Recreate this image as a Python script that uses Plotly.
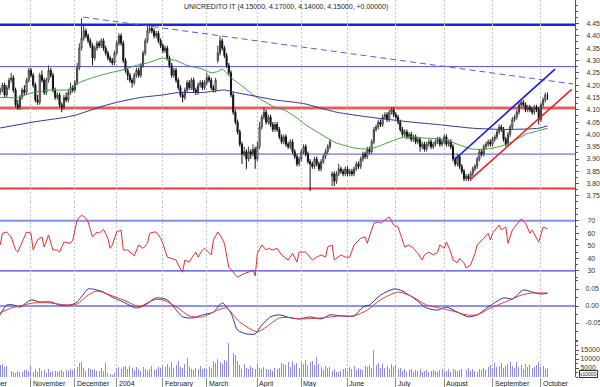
import pandas as pd
import plotly.graph_objects as go
from plotly.subplots import make_subplots

# ------------------------------------------------------------------ data
title_text = "UNICREDITO IT (4.15000, 4.17000, 4.14000, 4.15000, +0.00000)"
first_day = "2003-10-14"
holidays = ["2003-12-24", "2003-12-25", "2003-12-26", "2003-12-31",
            "2004-01-01", "2004-04-09", "2004-04-12"]
month_names = ["October", "November", "December", "2004", "February", "March",
               "April", "May", "June", "July", "August", "September", "October"]

open_ = [
    4.17, 4.18, 4.20, 4.16, 4.19, 4.22, 4.23, 4.18, 4.12, 4.11,
    4.15, 4.18, 4.17, 4.22, 4.26, 4.24, 4.20, 4.14, 4.13, 4.24,
    4.22, 4.17, 4.22, 4.26, 4.24, 4.18, 4.15, 4.16, 4.12, 4.11,
    4.15, 4.14, 4.17, 4.19, 4.18, 4.21, 4.27, 4.35, 4.39, 4.42,
    4.40, 4.38, 4.36, 4.31, 4.35, 4.37, 4.36, 4.38, 4.35, 4.33,
    4.31, 4.30, 4.29, 4.33, 4.37, 4.40, 4.37, 4.30, 4.26, 4.24,
    4.22, 4.21, 4.24, 4.26, 4.24, 4.28, 4.33, 4.38, 4.42, 4.43,
    4.42, 4.40, 4.41, 4.38, 4.36, 4.34, 4.35, 4.31, 4.28, 4.24,
    4.26, 4.22, 4.19, 4.16, 4.15, 4.18, 4.21, 4.19, 4.22, 4.18,
    4.17, 4.20, 4.21, 4.19, 4.21, 4.23, 4.22, 4.19, 4.18, 4.30,
    4.33, 4.38, 4.35, 4.32, 4.28, 4.25, 4.16, 4.09, 4.05, 4.01,
    3.96, 3.92, 3.93, 3.90, 3.93, 3.92, 3.94, 3.90, 3.95, 4.03,
    4.07, 4.09, 4.05, 4.07, 4.04, 4.02, 4.04, 4.02, 3.99, 3.97,
    3.99, 3.96, 3.95, 3.97, 3.93, 3.91, 3.88, 3.90, 3.93, 3.95,
    3.92, 3.89, 3.88, 3.87, 3.90, 3.88, 3.86, 3.89, 3.91, 3.93,
    3.95, 3.83, 3.84, 3.81, 3.84, 3.86, 3.85, 3.84, 3.86, 3.84,
    3.85, 3.84, 3.86, 3.88, 3.87, 3.90, 3.92, 3.91, 3.94, 3.93,
    3.97, 4.02, 4.03, 4.05, 4.04, 4.07, 4.08, 4.06, 4.09, 4.10,
    4.08, 4.07, 4.05, 4.02, 4.00, 4.01, 3.99, 4.00, 3.98, 3.99,
    3.97, 3.98, 3.95, 3.96, 3.94, 3.96, 3.97, 3.95, 3.96, 3.97,
    3.98, 3.96, 3.97, 3.99, 3.96, 3.97, 3.95, 3.90, 3.88, 3.91,
    3.87, 3.85, 3.82, 3.83, 3.82, 3.84, 3.86, 3.87, 3.90, 3.93,
    3.92, 3.95, 3.96, 3.97, 3.96, 3.98, 3.99, 4.01, 4.03, 4.02,
    3.98, 3.96, 4.00, 4.03, 4.06, 4.07, 4.09, 4.12, 4.13, 4.12,
    4.10, 4.11, 4.10, 4.09, 4.11, 4.10, 4.06, 4.12, 4.14, 4.15]

high = [
    4.19, 4.21, 4.21, 4.20, 4.23, 4.25, 4.24, 4.19, 4.14, 4.16,
    4.19, 4.20, 4.23, 4.27, 4.27, 4.25, 4.21, 4.16, 4.25, 4.26,
    4.23, 4.23, 4.28, 4.27, 4.25, 4.19, 4.17, 4.17, 4.13, 4.16,
    4.17, 4.18, 4.21, 4.20, 4.22, 4.29, 4.37, 4.47, 4.44, 4.43,
    4.41, 4.39, 4.37, 4.36, 4.38, 4.38, 4.39, 4.39, 4.36, 4.34,
    4.32, 4.31, 4.34, 4.38, 4.41, 4.41, 4.38, 4.31, 4.27, 4.25,
    4.23, 4.25, 4.27, 4.27, 4.29, 4.34, 4.39, 4.44, 4.45, 4.44,
    4.43, 4.42, 4.42, 4.39, 4.37, 4.36, 4.36, 4.32, 4.29, 4.27,
    4.27, 4.23, 4.20, 4.17, 4.19, 4.22, 4.22, 4.23, 4.23, 4.19,
    4.21, 4.22, 4.22, 4.22, 4.25, 4.24, 4.23, 4.20, 4.23, 4.36,
    4.40, 4.39, 4.36, 4.33, 4.29, 4.26, 4.17, 4.10, 4.06, 4.02,
    3.97, 3.95, 3.94, 3.95, 3.94, 3.96, 3.95, 3.97, 4.05, 4.08,
    4.11, 4.10, 4.08, 4.08, 4.05, 4.05, 4.05, 4.03, 4.00, 4.00,
    4.00, 3.97, 3.98, 3.98, 3.94, 3.92, 3.91, 3.94, 3.96, 3.96,
    3.93, 3.90, 3.89, 3.91, 3.91, 3.89, 3.90, 3.92, 3.94, 3.96,
    3.98, 3.85, 3.85, 3.85, 3.88, 3.87, 3.86, 3.87, 3.87, 3.86,
    3.86, 3.87, 3.89, 3.89, 3.91, 3.93, 3.93, 3.95, 3.95, 3.98,
    4.03, 4.04, 4.06, 4.06, 4.08, 4.09, 4.09, 4.10, 4.11, 4.11,
    4.09, 4.08, 4.06, 4.03, 4.02, 4.02, 4.01, 4.01, 4.00, 4.00,
    3.99, 3.99, 3.97, 3.97, 3.97, 3.98, 3.98, 3.97, 3.98, 3.99,
    3.99, 3.98, 4.00, 4.00, 3.98, 3.98, 3.96, 3.91, 3.92, 3.92,
    3.88, 3.86, 3.84, 3.84, 3.85, 3.87, 3.88, 3.91, 3.94, 3.94,
    3.96, 3.97, 3.98, 3.98, 3.99, 4.00, 4.02, 4.04, 4.04, 4.03,
    3.99, 4.01, 4.04, 4.07, 4.08, 4.10, 4.13, 4.14, 4.14, 4.13,
    4.12, 4.12, 4.11, 4.12, 4.12, 4.11, 4.13, 4.15, 4.17, 4.17]

low = [
    4.16, 4.17, 4.15, 4.15, 4.18, 4.21, 4.17, 4.11, 4.10, 4.10,
    4.14, 4.16, 4.16, 4.21, 4.23, 4.19, 4.13, 4.12, 4.12, 4.21,
    4.16, 4.16, 4.21, 4.23, 4.17, 4.14, 4.14, 4.11, 4.09, 4.10,
    4.13, 4.13, 4.16, 4.17, 4.17, 4.20, 4.26, 4.34, 4.38, 4.39,
    4.37, 4.35, 4.28, 4.30, 4.34, 4.35, 4.35, 4.34, 4.32, 4.30,
    4.29, 4.28, 4.28, 4.32, 4.36, 4.36, 4.29, 4.25, 4.22, 4.21,
    4.19, 4.20, 4.23, 4.23, 4.23, 4.27, 4.32, 4.37, 4.41, 4.41,
    4.39, 4.39, 4.37, 4.35, 4.33, 4.33, 4.30, 4.27, 4.23, 4.23,
    4.21, 4.18, 4.15, 4.13, 4.14, 4.17, 4.18, 4.18, 4.17, 4.16,
    4.16, 4.19, 4.18, 4.18, 4.20, 4.21, 4.18, 4.17, 4.17, 4.29,
    4.32, 4.34, 4.31, 4.27, 4.24, 4.15, 4.08, 4.04, 4.00, 3.95,
    3.88, 3.91, 3.86, 3.89, 3.90, 3.91, 3.86, 3.89, 3.94, 4.02,
    4.06, 4.04, 4.04, 4.03, 4.01, 4.01, 4.01, 3.98, 3.96, 3.96,
    3.95, 3.94, 3.94, 3.92, 3.90, 3.87, 3.87, 3.89, 3.92, 3.91,
    3.88, 3.77, 3.86, 3.86, 3.87, 3.85, 3.85, 3.88, 3.90, 3.92,
    3.94, 3.79, 3.79, 3.80, 3.83, 3.84, 3.83, 3.83, 3.83, 3.83,
    3.83, 3.83, 3.85, 3.86, 3.86, 3.89, 3.90, 3.90, 3.92, 3.92,
    3.96, 4.01, 4.02, 4.03, 4.03, 4.06, 4.05, 4.05, 4.08, 4.07,
    4.06, 4.04, 4.01, 3.99, 3.99, 3.98, 3.98, 3.97, 3.97, 3.96,
    3.96, 3.93, 3.94, 3.93, 3.93, 3.95, 3.94, 3.94, 3.95, 3.96,
    3.95, 3.95, 3.96, 3.95, 3.95, 3.94, 3.89, 3.87, 3.87, 3.86,
    3.84, 3.81, 3.81, 3.81, 3.81, 3.83, 3.85, 3.86, 3.89, 3.91,
    3.91, 3.94, 3.95, 3.95, 3.95, 3.97, 3.98, 4.00, 4.01, 3.97,
    3.95, 3.95, 3.99, 4.02, 4.05, 4.06, 4.08, 4.11, 4.11, 4.09,
    4.09, 4.09, 4.08, 4.08, 4.09, 4.04, 4.05, 4.11, 4.13, 4.14]

close = [
    4.18, 4.20, 4.16, 4.19, 4.22, 4.23, 4.18, 4.12, 4.11, 4.15,
    4.18, 4.17, 4.22, 4.26, 4.24, 4.20, 4.14, 4.13, 4.24, 4.22,
    4.17, 4.22, 4.26, 4.24, 4.18, 4.15, 4.16, 4.12, 4.11, 4.15,
    4.14, 4.17, 4.19, 4.18, 4.21, 4.27, 4.35, 4.39, 4.42, 4.40,
    4.38, 4.36, 4.31, 4.35, 4.37, 4.36, 4.38, 4.35, 4.33, 4.31,
    4.30, 4.29, 4.33, 4.37, 4.40, 4.37, 4.30, 4.26, 4.24, 4.22,
    4.21, 4.24, 4.26, 4.24, 4.28, 4.33, 4.38, 4.42, 4.43, 4.42,
    4.40, 4.41, 4.38, 4.36, 4.34, 4.35, 4.31, 4.28, 4.24, 4.26,
    4.22, 4.19, 4.16, 4.15, 4.18, 4.21, 4.19, 4.22, 4.18, 4.17,
    4.20, 4.21, 4.19, 4.21, 4.23, 4.22, 4.19, 4.18, 4.22, 4.33,
    4.38, 4.35, 4.32, 4.28, 4.25, 4.16, 4.09, 4.05, 4.01, 3.96,
    3.92, 3.93, 3.90, 3.93, 3.92, 3.94, 3.90, 3.95, 4.03, 4.07,
    4.09, 4.05, 4.07, 4.04, 4.02, 4.04, 4.02, 3.99, 3.97, 3.99,
    3.96, 3.95, 3.97, 3.93, 3.91, 3.88, 3.90, 3.93, 3.95, 3.92,
    3.89, 3.88, 3.87, 3.90, 3.88, 3.86, 3.89, 3.91, 3.93, 3.95,
    3.97, 3.84, 3.81, 3.84, 3.86, 3.85, 3.84, 3.86, 3.84, 3.85,
    3.84, 3.86, 3.88, 3.87, 3.90, 3.92, 3.91, 3.94, 3.93, 3.97,
    4.02, 4.03, 4.05, 4.04, 4.07, 4.08, 4.06, 4.09, 4.10, 4.08,
    4.07, 4.05, 4.02, 4.00, 4.01, 3.99, 4.00, 3.98, 3.99, 3.97,
    3.98, 3.95, 3.96, 3.94, 3.96, 3.97, 3.95, 3.96, 3.97, 3.98,
    3.96, 3.97, 3.99, 3.96, 3.97, 3.95, 3.90, 3.88, 3.91, 3.87,
    3.85, 3.82, 3.83, 3.82, 3.84, 3.86, 3.87, 3.90, 3.93, 3.92,
    3.95, 3.96, 3.97, 3.96, 3.98, 3.99, 4.01, 4.03, 4.02, 3.98,
    3.96, 4.00, 4.03, 4.06, 4.07, 4.09, 4.12, 4.13, 4.12, 4.10,
    4.11, 4.10, 4.09, 4.11, 4.10, 4.06, 4.12, 4.14, 4.16, 4.15]

volume = [
    6500, 7000, 5800, 6200, 4500,
    3200, 2800, 2500, 3500, 2600, 3000, 3800, 3900,
    3600, 6200,
    3000, 4200, 2800, 4800, 3300, 4000, 2500, 4500,
    3000, 3500, 3200, 2800, 3600, 4100, 3000, 3800, 3400, 4200, 3900, 4500,
    5500, 7800, 8200, 5000,
    3500, 5200, 4600, 3800, 4400, 3100, 3600, 4800, 3500,
    8000,
    2300, 1500, 1200, 2000,
    4800, 5800, 4300, 5600, 5900, 4200, 6000, 5100, 3700, 5500,
    4500, 3600, 5700, 4200, 3500, 4600, 5900, 3800, 4300, 5400,
    4800, 6200, 5300, 7500, 5600, 8500, 4800, 6900, 8700, 5600, 5100, 7000, 10500,
    5800, 4500, 3800, 5200, 4600, 6000, 4300, 5000, 4200, 5500, 4800,
    9000, 7600, 10000, 8200, 7200, 9500, 8800,
    19000,
    10200, 13500, 12500, 9000,
    6800, 4500, 7200, 5000, 4200, 6000, 4800, 4400,
    8000,
    5000, 4300, 5500, 4600, 3900, 4200, 3500, 5200, 4600, 5000,
    8000, 7200, 6500, 8600, 5500, 8800, 6400, 7800, 5200,
    8600, 7500, 9200, 6400, 8500, 9000, 6800, 11000,
    7000, 5600, 4000, 6200, 4800, 5500, 3500, 4200, 2800, 3000, 3600,
    4200, 5000, 3600, 5800, 4500, 6000, 3900, 5200, 4400, 3800, 6200, 5500, 6500, 4800,
    14800,
    6400, 7800, 5200, 7000, 4800, 6200, 4500, 7500, 5600, 6800, 4200, 5000,
    3500, 4500, 3000, 3800, 4200, 2800, 3900, 3300, 4600, 3000,
    3600, 4100, 2900, 3400, 4000, 3600, 2800, 3900, 4300, 3100,
    3500, 4200, 3000, 4600, 3800, 3200, 3700, 4400, 3300, 3900,
    5000, 3100, 4200, 3600, 2700, 4500, 3800, 5200, 4000,
    5500, 6800, 4800, 7600, 5400, 6200, 8000, 4900, 5900, 7200,
    8200, 6000, 5200, 8400, 5600, 6900, 4600, 7000, 5300, 6400,
    5000, 5800, 6600, 8600, 5500,
    5900, 4300, 5200]

# moving averages (trading-day index, price)
ma_green_idx = [0, 8, 15, 23, 30, 33, 36, 42, 50, 55, 62, 67, 74, 76, 80, 85, 92, 96, 99,
                101, 105, 111, 115, 117, 125, 129, 131, 136, 138, 146, 153, 161, 167, 170,
                176, 182, 187, 193, 202, 208, 215, 221, 227, 233, 239, 245, 249]
ma_green_val = [4.15, 4.15, 4.17, 4.18, 4.18, 4.19, 4.21, 4.23, 4.25, 4.26, 4.28, 4.29,
                4.31, 4.305, 4.30, 4.28, 4.265, 4.25, 4.255, 4.265, 4.23, 4.19, 4.16, 4.15,
                4.11, 4.10, 4.09, 4.06, 4.045, 4.00, 3.965, 3.945, 3.94, 3.945, 3.965,
                3.985, 3.99, 3.985, 3.98, 3.96, 3.94, 3.94, 3.95, 3.97, 4.00, 4.015, 4.025]
ma_blue_idx = [0, 15, 30, 35, 45, 53, 64, 74, 81, 92, 102, 107, 116, 125, 138, 153, 168,
               187, 199, 215, 230, 245, 249]
ma_blue_val = [4.026, 4.05, 4.07, 4.08, 4.11, 4.13, 4.15, 4.16, 4.17, 4.17, 4.18, 4.17,
               4.155, 4.14, 4.125, 4.09, 4.07, 4.05, 4.04, 4.025, 4.02, 4.025, 4.035]

rsi_idx = [0, 1, 3, 5, 7, 8, 10, 12, 14, 15, 17, 19, 20, 22, 24, 26, 27, 29, 32, 33, 35, 37,
           39, 40, 42, 44, 45, 47, 49, 50, 51, 53, 55, 56, 58, 60, 61, 63, 65, 67, 68, 70,
           71, 73, 74, 76, 78, 80, 81, 83, 84, 86, 87, 89, 90, 92, 93, 96, 97, 99, 100, 102,
           104, 106, 108, 109, 111, 113, 115, 116, 117, 119, 121, 122, 124, 126, 128, 131,
           133, 135, 136, 139, 142, 144, 146, 148, 149, 151, 152, 155, 157, 159, 161, 164,
           166, 167, 170, 172, 173, 175, 177, 179, 181, 183, 184, 186, 188, 190, 192, 193,
           195, 197, 199, 200, 202, 203, 205, 206, 208, 209, 211, 212, 214, 216, 217, 220,
           222, 223, 224, 227, 228, 230, 231, 233, 235, 237, 239, 241, 242, 245, 247, 249]
rsi_val = [50.7, 60, 61, 57, 46.7, 45, 53, 61, 60, 46.7, 54.6, 57, 49, 58.6, 46.7, 46.7, 45,
           53, 52, 54.6, 70.5, 74.5, 72, 69, 57, 61, 60, 63, 56, 48, 50.7, 61, 62.6, 46.7,
           46.7, 44, 42, 50.7, 48, 52, 60, 61, 61, 56, 52, 41, 40, 38.7, 34.7, 29, 38.7, 37,
           40, 45, 41, 46.7, 48, 42.7, 54.6, 61, 58.6, 52, 33, 29, 25, 26, 28, 29, 30.8, 26,
           44, 50.7, 46.7, 48, 46.7, 48, 42.7, 38.7, 44, 37, 45, 45, 38.7, 41, 42.7, 41, 49,
           50.7, 38.7, 42.7, 41, 41, 50.7, 56, 57, 52, 68, 69, 68, 70.5, 73, 66.6, 65, 54.6,
           49, 50.7, 48, 44, 38.7, 42.7, 45, 42.7, 45, 50.7, 48, 53, 45, 38.7, 36.4, 40,
           36.4, 32.4, 34.7, 44, 50.7, 56, 60, 54.6, 60, 66.6, 62.6, 65, 52, 62.6, 66.6,
           71.4, 68, 60, 62.6, 53, 65, 63.4]

macd_idx = [0, 3, 6, 9, 14, 18, 23, 27, 32, 35, 40, 42, 47, 51, 56, 62, 67, 71, 76, 79, 83,
            88, 92, 97, 101, 105, 108, 112, 116, 119, 123, 127, 132, 136, 141, 146, 150, 155,
            161, 165, 168, 173, 179, 182, 188, 194, 199, 203, 208, 213, 217, 222, 229, 233,
            238, 242, 246, 249]
macd_val = [-0.026, 0.003, 0.003, -0.003, 0.018, 0.012, 0.012, 0.003, 0.003, 0.012, 0.05,
            0.05, 0.041, 0.026, 0.012, -0.006, 0.009, 0.024, 0.018, -0.003, -0.032, -0.035,
            -0.026, -0.018, 0.009, -0.021, -0.071, -0.082, -0.082, -0.056, -0.032, -0.026,
            -0.035, -0.038, -0.032, -0.038, -0.026, -0.029, -0.029, -0.003, 0.003, 0.032,
            0.05, 0.047, 0.024, -0.006, -0.012, -0.003, -0.018, -0.032, -0.026, -0.003,
            0.024, 0.021, 0.047, 0.041, 0.035, 0.038]
signal_idx = [0, 5, 9, 15, 23, 30, 35, 40, 44, 50, 56, 64, 70, 74, 81, 86, 92, 99, 103, 109,
              117, 121, 127, 133, 136, 146, 155, 161, 167, 173, 181, 187, 194, 200, 206, 212,
              217, 223, 231, 237, 242, 249]
signal_val = [-0.02, -0.006, 0.0, 0.009, 0.009, 0.003, 0.006, 0.032, 0.044, 0.032, 0.018,
              -0.003, 0.018, 0.018, -0.006, -0.029, -0.032, -0.012, -0.006, -0.047, -0.076,
              -0.062, -0.035, -0.035, -0.038, -0.035, -0.029, -0.029, -0.012, 0.018, 0.041,
              0.029, 0.003, -0.006, -0.015, -0.026, -0.026, -0.006, 0.015, 0.032, 0.038, 0.038]

# horizontal support / resistance levels and trend lines (index, price)
price_levels = [4.445, 4.275, 4.107, 3.92, 3.78]
rsi_levels = [70, 30]
macd_levels = [0.0]
trend_dashed_idx, trend_dashed_val = [37.7, 260.6], [4.476, 4.2045]
channel_up_idx, channel_up_val = [207.0, 252.4], [3.90, 4.265]
channel_lo_idx, channel_lo_val = [213.7, 260.0], [3.815, 4.183]

price_ticks = [3.75, 3.80, 3.85, 3.90, 3.95, 4.00, 4.05, 4.10, 4.15, 4.20, 4.25, 4.30,
               4.35, 4.40, 4.45]
rsi_ticks = [30, 40, 50, 60, 70]
macd_ticks = [-0.05, 0.0, 0.05]
macd_tick_text = ["-0.05", "0.00", "0.05"]
vol_ticks = [5000, 10000, 15000]

# ------------------------------------------------------------------ styles / layout
FONT = "Liberation Sans, Arial, sans-serif"
W, H = 600, 387
ML, MR, MT, MB = 0, 25, 0, 10
PH = H - MT - MB
panel_px = [0, 201.5, 280, 340, PH]
x_range = [-0.09, 261.5]
price_range = [3.7276, 4.5454]
rsi_range = [22.8, 85.27]
macd_range = [-0.10, 0.0765]
vol_range = [0, 20556]

level_style = [("#2020dd", 2.5), ("#5050cc", 1), ("#e06060", 3), ("#5050cc", 1), ("#e03838", 2)]
rsi_level_style = [("#8a8aee", 2), ("#4646cc", 1.3)]


def dom(top_px, bot_px):
    return [1 - bot_px / PH, 1 - top_px / PH]


n = len(close)
idx = list(range(n))

cal = pd.bdate_range("2003-10-01", "2004-12-31")
cal = cal[~cal.isin(pd.to_datetime(holidays))]
start = cal.get_loc(pd.Timestamp(first_day))
pos = pd.Series(range(len(cal)), index=cal) - start
month_start_idx = [int(g.iloc[0]) for _, g in pos.groupby([cal.year, cal.month])]
month_start_idx = [m for m in month_start_idx if m <= n - 1][:len(month_names)]

fig = make_subplots(rows=4, cols=1, shared_xaxes=True, vertical_spacing=0)

fig.add_trace(go.Candlestick(
    x=idx, open=open_, high=high, low=low, close=close,
    increasing=dict(line=dict(color="#3a3a3a", width=1), fillcolor="white"),
    decreasing=dict(line=dict(color="#111111", width=1), fillcolor="#111111"),
    whiskerwidth=0, hoverinfo="skip"), row=1, col=1)
fig.add_trace(go.Scatter(x=ma_green_idx, y=ma_green_val, mode="lines",
                         line=dict(color="#3f9f3f", width=1, shape="spline", smoothing=0.6),
                         hoverinfo="skip"), row=1, col=1)
fig.add_trace(go.Scatter(x=ma_blue_idx, y=ma_blue_val, mode="lines",
                         line=dict(color="#34348f", width=1, shape="spline", smoothing=0.6),
                         hoverinfo="skip"), row=1, col=1)

fig.add_trace(go.Scatter(x=rsi_idx, y=rsi_val, mode="lines",
                         line=dict(color="#e23030", width=1), hoverinfo="skip"), row=2, col=1)

fig.add_trace(go.Scatter(x=macd_idx, y=macd_val, mode="lines",
                         line=dict(color="#3030a0", width=1, shape="spline", smoothing=0.7),
                         hoverinfo="skip"), row=3, col=1)
fig.add_trace(go.Scatter(x=signal_idx, y=signal_val, mode="lines",
                         line=dict(color="#e03a3a", width=1, shape="spline", smoothing=0.7),
                         hoverinfo="skip"), row=3, col=1)

fig.add_trace(go.Bar(x=list(range(len(volume))), y=volume, width=0.45,
                     marker=dict(color="#8a8ae8", line=dict(width=0)),
                     hoverinfo="skip"), row=4, col=1)

# level lines
for lvl, (col, w) in zip(price_levels, level_style):
    fig.add_shape(type="line", xref="x domain", x0=0, x1=1, yref="y", y0=lvl, y1=lvl,
                  line=dict(color=col, width=w), layer="below")
for lvl, (col, w) in zip(rsi_levels, rsi_level_style):
    fig.add_shape(type="line", xref="x2 domain", x0=0, x1=1, yref="y2", y0=lvl, y1=lvl,
                  line=dict(color=col, width=w), layer="below")
for lvl in macd_levels:
    fig.add_shape(type="line", xref="x3 domain", x0=0, x1=1, yref="y3", y0=lvl, y1=lvl,
                  line=dict(color="#9090ee", width=2), layer="below")

# trend lines
fig.add_shape(type="line", xref="x", yref="y", x0=trend_dashed_idx[0], x1=trend_dashed_idx[1],
              y0=trend_dashed_val[0], y1=trend_dashed_val[1],
              line=dict(color="#5a5ae0", width=1, dash="6px,4px"))
fig.add_shape(type="line", xref="x", yref="y", x0=channel_up_idx[0], x1=channel_up_idx[1],
              y0=channel_up_val[0], y1=channel_up_val[1], line=dict(color="#1c1ce0", width=1.6))
fig.add_shape(type="line", xref="x", yref="y", x0=channel_lo_idx[0], x1=channel_lo_idx[1],
              y0=channel_lo_val[0], y1=channel_lo_val[1], line=dict(color="#ee2020", width=1.6))

# axes
tickfont = dict(size=7, color="#333333", family=FONT)
fig.update_xaxes(range=x_range, showgrid=True, tickmode="array", tickvals=month_start_idx,
                 gridcolor="#c4c4c4", gridwidth=1, griddash="2px,2px", zeroline=False,
                 showline=False, showticklabels=False, ticks="", fixedrange=True,
                 rangeslider=dict(visible=False))
fig.update_xaxes(ticks="outside", ticklen=9, tickcolor="#8c8c8c", tickwidth=1, row=4, col=1)

yax = dict(side="right", showgrid=False, zeroline=False, showline=True, linecolor="#555555",
           linewidth=1, ticks="outside", ticklen=3, tickcolor="#555555", tickfont=tickfont,
           tickmode="array", fixedrange=True, automargin=False)
fig.update_layout(
    yaxis=dict(yax, domain=dom(panel_px[0], panel_px[1]), range=price_range,
               tickvals=price_ticks, ticktext=["%.2f" % v for v in price_ticks],
               ticklabelstandoff=6,
               minor=dict(ticks="outside", ticklen=2, tickcolor="#555555", tick0=0, dtick=0.025)),
    yaxis2=dict(yax, domain=dom(panel_px[1], panel_px[2]), range=rsi_range,
                tickvals=rsi_ticks, ticktext=[str(v) for v in rsi_ticks], ticklabelstandoff=7,
                minor=dict(ticks="outside", ticklen=2, tickcolor="#555555", tick0=0, dtick=5)),
    yaxis3=dict(yax, domain=dom(panel_px[2], panel_px[3]), range=macd_range,
                tickvals=macd_ticks, ticktext=macd_tick_text, ticklabelstandoff=5,
                minor=dict(ticks="outside", ticklen=2, tickcolor="#555555", tick0=0, dtick=0.025)),
    yaxis4=dict(yax, domain=dom(panel_px[3], panel_px[4]), range=vol_range,
                tickvals=vol_ticks, ticktext=[str(v) for v in vol_ticks], ticklabelstandoff=0,
                minor=dict(ticks="outside", ticklen=2, tickcolor="#555555", tick0=0, dtick=2500)),
)

# month labels under the chart
annotations = []
for m_idx, name in zip(month_start_idx, month_names):
    xp = (m_idx - x_range[0]) / (x_range[1] - x_range[0])
    annotations.append(dict(xref="paper", yref="paper", x=xp, y=0, xanchor="left",
                            yanchor="top", xshift=0, yshift=-1, text=name, showarrow=False,
                            font=dict(size=7, color="#222222", family=FONT)))
annotations.append(dict(xref="paper", yref="paper", x=0.498, y=1 - 6.5 / PH, xanchor="center",
                        yanchor="middle", text=title_text, showarrow=False,
                        font=dict(size=7, color="#222222", family=FONT)))
annotations.append(dict(xref="paper", yref="paper", x=588 / (W - MR), y=(PH - 373.5) / PH,
                        xanchor="center", yanchor="middle", text="x10000", showarrow=False,
                        font=dict(size=5, color="#222222", family=FONT), bgcolor="white",
                        bordercolor="#333333", borderwidth=1, borderpad=0))

fig.update_layout(
    width=W, height=H, margin=dict(l=ML, r=MR, t=MT, b=MB, pad=0, autoexpand=False),
    paper_bgcolor="white", plot_bgcolor="white", showlegend=False,
    annotations=annotations, bargap=0,
)

fig.write_html("out.html", config={"displayModeBar": False, "staticPlot": True},
               post_script="document.body.style.margin='0';document.body.style.padding='0';")
